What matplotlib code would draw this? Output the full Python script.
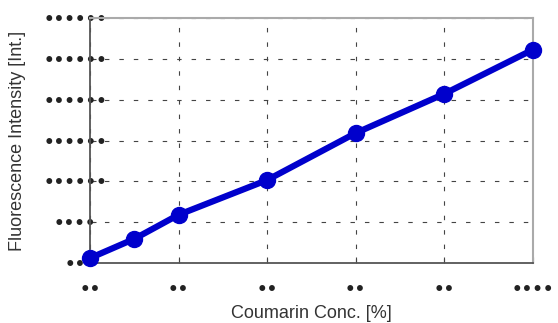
import numpy as np
import matplotlib
matplotlib.use("Agg")
import matplotlib.pyplot as plt

# data (x in tick units, y in tick units)
conc = [0, 0.5, 1, 2, 3, 4, 5]
intensity = [0.12, 0.59, 1.18, 2.03, 3.18, 4.14, 5.22]

xticks = [0, 1, 2, 3, 4, 5]
xlabels = ["\u2022\u2022"] * 5 + ["\u2022\u2022\u2022\u2022"]
yticks = [0, 1, 2, 3, 4, 5, 6]
ylabels = ["\u2022\u2022", "\u2022\u2022\u2022\u2022"] + ["\u2022\u2022\u2022\u2022\u2022\u2022"] * 5

fig = plt.figure(figsize=(5.58, 3.23), dpi=100)
ax = fig.add_axes([90/558, 60/323, 442.5/558, 245/323])

ax.plot(conc, intensity, color="#0000cc", lw=4.5, marker="o", ms=11.5,
        zorder=3, clip_on=False)

ax.set_xlim(0, 5)
ax.set_ylim(0, 6)
ax.set_xticks(xticks)
ax.set_xticklabels(xlabels, fontfamily="DejaVu Sans", fontsize=12,
                   fontweight="bold", color="#222222")
ax.set_yticks(yticks)
ax.set_yticklabels(ylabels, fontfamily="DejaVu Sans", fontsize=12,
                   fontweight="bold", color="#222222")
for t in ax.get_yticklabels():
    t.set_ha("center")
for t in ax.get_xticklabels():
    t.set_va("center")
ax.tick_params(axis="y", direction="in", length=4, pad=10.8, color="#444444")
ax.tick_params(axis="x", direction="in", length=4, pad=19.4, color="#444444")

ax.grid(True, color="#444444", lw=0.8, linestyle=(0, (4, 9)))
ax.set_axisbelow(True)

for s in ["left", "bottom"]:
    ax.spines[s].set_color("#555555")
    ax.spines[s].set_linewidth(1.3)
for s in ["top", "right"]:
    ax.spines[s].set_color("#aaaaaa")
    ax.spines[s].set_linewidth(1.5)

ax.set_xlabel("Coumarin Conc. [%]", fontfamily="Liberation Sans", fontsize=13,
              color="#333333", va="center")
ax.xaxis.set_label_coords(0.5, -50/245)
ax.set_ylabel("Fluorescence Intensity [Int.]", fontfamily="Liberation Sans",
              fontsize=13, color="#333333", va="center")
ax.yaxis.set_label_coords(-72/442.5, 0.5)

fig.savefig("out.png", dpi=100)
